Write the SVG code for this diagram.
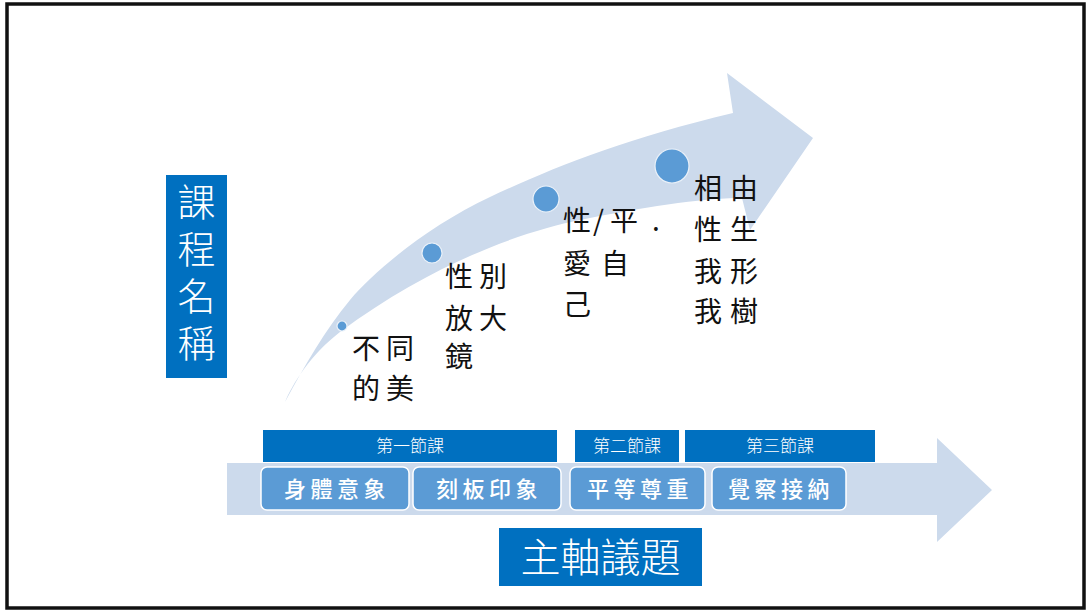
<svg xmlns="http://www.w3.org/2000/svg" width="1086" height="611" viewBox="0 0 1086 611">
<style>
.pale{fill:#CCDAEC}
.blue{fill:#0070C0}
.dot{fill:#5B9BD5;stroke:#EAF1F9;stroke-width:1.2}
.chip{fill:#5B9BD5;stroke:#FFFFFF;stroke-width:1.5}
.blk{font-family:"Noto Sans CJK TC","Noto Sans CJK SC",sans-serif;font-size:28px;fill:#111111}
.hdr{font-family:"Noto Sans CJK TC",sans-serif;font-size:17px;font-weight:300;fill:#FFFFFF;text-anchor:middle}
.chipt{font-family:"Noto Sans CJK TC",sans-serif;font-size:22px;font-weight:500;fill:#FFFFFF;text-anchor:middle;letter-spacing:4.5px}
.big{font-family:"Noto Sans CJK TC",sans-serif;font-weight:300;fill:#FFFFFF;text-anchor:middle}
</style>
<rect x="0" y="0" width="1086" height="611" fill="#FFFFFF"/>
<rect x="7" y="4" width="1077" height="604" fill="none" stroke="#111111" stroke-width="3.5"/>

<g id="connectors">
  <path id="curved-arrow" class="pale" d="M285,402 C305,365 325,330 350,300 S430,225 490,197 S620,140 733,113 L727,73 L813,138 L750,230 L742,198 C700,198 640,208 580,220 S430,265 340,332 C310,355 292,385 285,402 Z"/>
  <path id="axis-arrow" class="pale" d="M227,463 L937,463 L937,438 L992,490 L937,542 L937,515 L227,515 Z"/>
</g>

<g id="course-title">
  <rect class="blue" x="166" y="175" width="61" height="203"/>
  <text class="big" font-size="38" x="196.5" y="183" writing-mode="vertical-rl" style="text-anchor:start;letter-spacing:9px">課程名稱</text>
</g>

<g id="step1">
  <circle class="dot" cx="342" cy="326" r="5"/>
  <text class="blk" x="352 386" y="359">不同</text>
  <text class="blk" x="352 386" y="399">的美</text>
</g>
<g id="step2">
  <circle class="dot" cx="432" cy="253" r="10"/>
  <text class="blk" x="445 479" y="287">性別</text>
  <text class="blk" x="445 479" y="329">放大</text>
  <text class="blk" x="445" y="367">鏡</text>
</g>
<g id="step3">
  <circle class="dot" cx="546" cy="199" r="13"/>
  <text class="blk" x="563 593 610 652" y="231">性/平.</text>
  <text class="blk" x="563 601" y="274">愛自</text>
  <text class="blk" x="563" y="315">己</text>
</g>
<g id="step4">
  <circle class="dot" cx="672" cy="166" r="17"/>
  <text class="blk" x="694 730" y="199">相由</text>
  <text class="blk" x="694 730" y="240">性生</text>
  <text class="blk" x="694 730" y="282">我形</text>
  <text class="blk" x="694 730" y="322">我樹</text>
</g>

<g id="lesson1">
  <rect class="blue" x="263" y="430" width="294" height="32"/>
  <text class="hdr" x="410" y="452">第一節課</text>
</g>
<g id="lesson2">
  <rect class="blue" x="575" y="430" width="104" height="32"/>
  <text class="hdr" x="627" y="452">第二節課</text>
</g>
<g id="lesson3">
  <rect class="blue" x="685" y="430" width="190" height="32"/>
  <text class="hdr" x="780" y="452">第三節課</text>
</g>

<g id="topic-body-image">
  <rect class="chip" x="261" y="467" width="148" height="43" rx="6"/>
  <text class="chipt" x="337" y="497">身體意象</text>
</g>
<g id="topic-stereotype">
  <rect class="chip" x="413" y="467" width="148" height="43" rx="6"/>
  <text class="chipt" x="489" y="497">刻板印象</text>
</g>
<g id="topic-equality">
  <rect class="chip" x="570" y="467" width="135" height="43" rx="6"/>
  <text class="chipt" x="640" y="497">平等尊重</text>
</g>
<g id="topic-acceptance">
  <rect class="chip" x="712" y="467" width="134" height="43" rx="6"/>
  <text class="chipt" x="781" y="497">覺察接納</text>
</g>

<g id="main-axis">
  <rect class="blue" x="499" y="528" width="203" height="58"/>
  <text class="big" font-size="40" x="600.5" y="572">主軸議題</text>
</g>
</svg>
